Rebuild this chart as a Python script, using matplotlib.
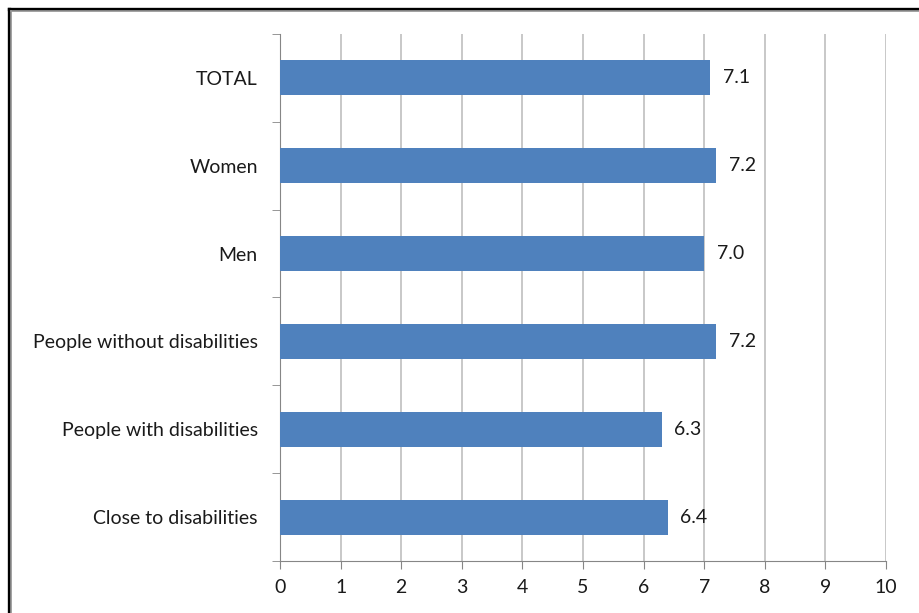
import matplotlib.pyplot as plt
from matplotlib.lines import Line2D

categories = ["TOTAL", "Women", "Men", "People without disabilities",
              "People with disabilities", "Close to disabilities"]
values = [7.1, 7.2, 7.0, 7.2, 6.3, 6.4]
labels = ["7.1", "7.2", "7.0", "7.2", "6.3", "6.4"]

plt.rcParams['font.family'] = ['Lato', 'DejaVu Sans']

fig = plt.figure(figsize=(9.19, 6.13), dpi=100)
ax = fig.add_axes([280 / 919, 52 / 613, 606 / 919, 527 / 613])

bar_color = "#4F81BD"
grid_color = "#BFBFBF"
axis_color = "#868686"
text_color = "#1a1a1a"

ypos = list(range(len(categories)))
ax.barh(ypos, values, height=0.4, color=bar_color, zorder=3)

for y, v, t in zip(ypos, values, labels):
    ax.annotate(t, (v, y), xytext=(9, 0), textcoords="offset points",
                va="center", ha="left", fontsize=14, color=text_color, zorder=4)

ax.set_xlim(0, 10)
ax.set_ylim(len(categories) - 0.5, -0.5)
ax.set_xticks(range(0, 11))
ax.set_yticks(ypos)
ax.set_yticklabels(categories)
ax.set_yticks([i - 0.5 for i in range(len(categories) + 1)], minor=True)

for x in range(1, 11):
    ax.axvline(x, color=grid_color, lw=1.2, zorder=1)

for s in ["top", "right"]:
    ax.spines[s].set_visible(False)
ax.spines["left"].set_color(axis_color)
ax.spines["bottom"].set_color(axis_color)

ax.tick_params(axis="y", which="major", length=0, pad=16, labelsize=14, labelcolor=text_color)
ax.tick_params(axis="y", which="minor", length=6, color=axis_color, direction="out")
ax.tick_params(axis="x", length=6, color=axis_color, labelsize=14, labelcolor=text_color, pad=7)

# frame around chart
fig.add_artist(Line2D([8.5 / 919, 8.5 / 919], [0, 1 - 8.5 / 613], color="black", lw=2.4,
                      transform=fig.transFigure))
fig.add_artist(Line2D([8.5 / 919, 1], [1 - 8.5 / 613, 1 - 8.5 / 613], color="black", lw=2.4,
                      transform=fig.transFigure))
fig.add_artist(Line2D([11 / 919, 11 / 919], [0, 1 - 11 / 613], color="#9a9a9a", lw=1.2,
                      transform=fig.transFigure))
fig.add_artist(Line2D([11 / 919, 1], [1 - 11 / 613, 1 - 11 / 613], color="#9a9a9a", lw=1.2,
                      transform=fig.transFigure))

fig.savefig("out.png", dpi=100)
